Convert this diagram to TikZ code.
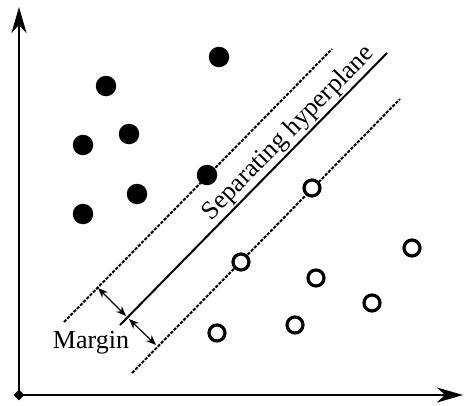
\documentclass[tikz,border=0pt]{standalone}
\usepackage{fontspec}
\setmainfont{Liberation Serif}
\usetikzlibrary{arrows.meta,shapes.geometric}
\begin{document}
\begin{tikzpicture}[x=1pt,y=-1pt,
  axis/.style={line width=2.4pt,-{Stealth[length=26pt,width=15pt,inset=8pt]}},
  fullpt/.style={circle,fill=black,minimum size=20.5pt,inner sep=0pt},
  openpt/.style={circle,draw=black,line width=3.2pt,fill=white,minimum size=16pt,inner sep=0pt},
  dline/.style={line width=2pt,dash pattern=on 3.2pt off 1.4pt},
  sline/.style={line width=2pt},
  marg/.style={line width=1.2pt,{Stealth[length=10pt,width=8pt]}-{Stealth[length=10pt,width=8pt]}},
  lbl/.style={font=\fontsize{26}{30}\selectfont}]
\useasboundingbox (0,0) rectangle (464,405);
% axes
\coordinate (O) at (19,395);
\coordinate (Ytop) at (19,7);
\coordinate (Xend) at (463,395);
\draw[axis] (O) -- (Ytop);
\draw[axis] (O) -- (Xend);
\node[diamond,fill=black,minimum size=11pt,inner sep=0pt] (corner) at (O) {};
% lines
\coordinate (d1a) at (64,322);
\coordinate (d1b) at (332,49);
\coordinate (sa) at (120,325);
\coordinate (sb) at (387,53);
\coordinate (d2a) at (132,373);
\coordinate (d2b) at (400,99);
\draw[dline] (d1a) -- (d1b);
\draw[sline] (sa) -- (sb);
\draw[dline] (d2a) -- (d2b);
% filled points
\node[fullpt] (p1) at (219,57) {};
\node[fullpt] (p2) at (106,86) {};
\node[fullpt] (p3) at (129,134) {};
\node[fullpt] (p4) at (83,145) {};
\node[fullpt] (p5) at (137,194) {};
\node[fullpt] (p6) at (207,175) {};
\node[fullpt] (p7) at (83,214) {};
% open points
\node[openpt] (n1) at (312,188) {};
\node[openpt] (n2) at (241,262) {};
\node[openpt] (n3) at (316,278) {};
\node[openpt] (n4) at (412,248) {};
\node[openpt] (n5) at (372,303) {};
\node[openpt] (n6) at (295,325) {};
\node[openpt] (n7) at (217,333) {};
% margin arrows
\coordinate (m1a) at (98,288);
\coordinate (m1b) at (126,316);
\coordinate (m2a) at (129,319);
\coordinate (m2b) at (156,345);
\draw[marg] (m1a) -- (m1b);
\draw[marg] (m2a) -- (m2b);
\node[lbl] (margin) at (91,343) {Margin};
\node[lbl,rotate=45.5,anchor=south,inner sep=1.5pt] (sep) at (298,143) {Separating hyperplane};
\end{tikzpicture}
\end{document}
